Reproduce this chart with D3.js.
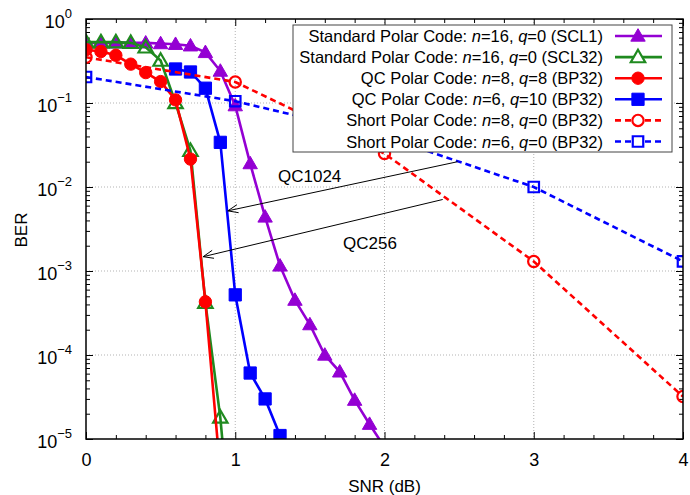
<!DOCTYPE html>
<html>
<head>
<meta charset="utf-8">
<script src="https://cdn.jsdelivr.net/npm/d3@7"></script>
<style>
  body { margin: 0; background: #fff; }
  svg { display: block; font-family: "Liberation Sans", Arial, Helvetica, sans-serif; }
</style>
</head>
<body>
<svg id="chart" width="690" height="495"></svg>
<script>
// ---- data ----
const xTicks = [0, 1, 2, 3, 4];
const xMinorTicks = [0.2, 0.4, 0.6, 0.8, 1.2, 1.4, 1.6, 1.8, 2.2, 2.4, 2.6, 2.8, 3.2, 3.4, 3.6, 3.8];
const yExponents = [0, -1, -2, -3, -4, -5];

const snrSCL1 = [0, 0.1, 0.2, 0.3, 0.4, 0.5, 0.6, 0.7, 0.8, 0.9, 1.0, 1.1, 1.2, 1.3, 1.4, 1.5, 1.6, 1.7, 1.8, 1.9, 2.0];
const berSCL1 = [0.52, 0.52, 0.52, 0.52, 0.52, 0.51, 0.50, 0.48, 0.40, 0.24, 0.093, 0.019, 0.0044, 0.00115, 0.00045, 0.00023, 0.0001, 0.000063, 0.000029, 0.000015, 0.000008];

const snrSCL32 = [0, 0.1, 0.2, 0.3, 0.4, 0.5, 0.6, 0.7, 0.8, 0.9, 1.0];
const berSCL32 = [0.53, 0.53, 0.53, 0.52, 0.46, 0.32, 0.10, 0.027, 0.00042, 0.000018, 0.0000002];

const snrQC8 = [0, 0.1, 0.2, 0.3, 0.4, 0.5, 0.6, 0.7, 0.8, 0.9];
const berQC8 = [0.43, 0.41, 0.37, 0.29, 0.23, 0.18, 0.109, 0.0215, 0.00043, 0.000004];

const snrQC6 = [0.6, 0.7, 0.8, 0.9, 1.0, 1.1, 1.2, 1.3];
const berQC6 = [0.254, 0.234, 0.15, 0.034, 0.00052, 0.000061, 0.00003, 0.000011];

const snrShort8 = [0, 1, 2, 3, 4];
const berShort8 = [0.35, 0.178, 0.025, 0.0013, 0.000032];

const snrShort6 = [0, 1, 2, 3, 4];
const berShort6 = [0.204, 0.105, 0.04, 0.01, 0.0013];

const seriesNames = [
  ["Standard Polar Code: ", "n", "=16, ", "q", "=0 (SCL1)"],
  ["Standard Polar Code: ", "n", "=16, ", "q", "=0 (SCL32)"],
  ["QC Polar Code: ", "n", "=8, ", "q", "=8 (BP32)"],
  ["QC Polar Code: ", "n", "=6, ", "q", "=10 (BP32)"],
  ["Short Polar Code: ", "n", "=8, ", "q", "=0 (BP32)"],
  ["Short Polar Code: ", "n", "=6, ", "q", "=0 (BP32)"]
];
const seriesColors = ["#9400d3", "#1f8a1f", "#ff0000", "#0000ff", "#ff0000", "#0000ff"];

// annotation arrows: [label, from snr, from ber, to snr, to ber]
const arrowNotes = [
  ["QC1024", 2.49, 0.02, 0.95, 0.0052],
  ["QC256", 2.39, 0.0071, 0.785, 0.00148]
];

// ---- layout ----
const svg = d3.select("#chart");
const L = 86, R = 683, T = 19, B = 439;
const x = d3.scaleLinear().domain([0, 4]).range([L, R]);
const y = d3.scaleLog().domain([1e-5, 1]).range([B, T]);
const fontFam = '"Liberation Sans", Arial, Helvetica, sans-serif';

const series = [
  { xs: snrSCL1, ys: berSCL1, sym: d3.symbolTriangle, size: 90, fill: true, dash: null },
  { xs: snrSCL32, ys: berSCL32, sym: d3.symbolTriangle, size: 90, fill: false, dash: null },
  { xs: snrQC8, ys: berQC8, sym: d3.symbolCircle, size: 120, fill: true, dash: null },
  { xs: snrQC6, ys: berQC6, sym: d3.symbolSquare, size: 150, fill: true, dash: null },
  { xs: snrShort8, ys: berShort8, sym: d3.symbolCircle, size: 100, fill: false, dash: "6,4" },
  { xs: snrShort6, ys: berShort6, sym: d3.symbolSquare, size: 110, fill: false, dash: "6,4" }
];

svg.append("defs").append("clipPath").attr("id", "plotclip")
  .append("rect").attr("x", L).attr("y", T).attr("width", R - L).attr("height", B - T);

// grid
const grid = svg.append("g").attr("stroke", "#aaa").attr("stroke-width", 0.9).attr("stroke-dasharray", "1,2");
xTicks.slice(1, -1).forEach(v => {
  grid.append("line").attr("x1", x(v)).attr("x2", x(v)).attr("y1", T).attr("y2", B);
});
yExponents.slice(1, -1).forEach(e => {
  grid.append("line").attr("x1", L).attr("x2", R).attr("y1", y(Math.pow(10, e))).attr("y2", y(Math.pow(10, e)));
});

// axes (ticks point inward)
const yMajor = yExponents.map(e => Math.pow(10, e));
const yMinor = [];
yExponents.slice(1).forEach(e => { for (let k = 2; k <= 9; k++) yMinor.push(k * Math.pow(10, e)); });

function styleAxis(g) {
  g.select(".domain").remove();
  g.selectAll("line").attr("stroke", "#000").attr("stroke-width", 1);
  g.selectAll("text").attr("font-family", fontFam).attr("fill", "#000");
}

svg.append("g").attr("transform", `translate(0,${B})`)
  .call(d3.axisBottom(x).tickValues(xTicks).tickSize(-7).tickSizeOuter(0).tickPadding(14).tickFormat(d3.format("d")))
  .call(styleAxis).selectAll("text").attr("font-size", 18);
svg.append("g").attr("transform", `translate(0,${B})`)
  .call(d3.axisBottom(x).tickValues(xMinorTicks).tickSize(-4).tickSizeOuter(0).tickFormat(""))
  .call(styleAxis);
svg.append("g").attr("transform", `translate(0,${T})`)
  .call(d3.axisTop(x).tickValues(xTicks).tickSize(-7).tickSizeOuter(0).tickFormat(""))
  .call(styleAxis);
svg.append("g").attr("transform", `translate(0,${T})`)
  .call(d3.axisTop(x).tickValues(xMinorTicks).tickSize(-4).tickSizeOuter(0).tickFormat(""))
  .call(styleAxis);

const yAxisG = svg.append("g").attr("transform", `translate(${L},0)`)
  .call(d3.axisLeft(y).tickValues(yMajor).tickSize(-7).tickSizeOuter(0).tickPadding(14).tickFormat(""))
  .call(styleAxis);
yAxisG.selectAll(".tick text").each(function (d) {
  const t = d3.select(this).attr("font-size", 18).attr("dy", "0.45em");
  t.append("tspan").text("10");
  const ex = Math.round(Math.log10(d));
  t.append("tspan").attr("font-size", 13).attr("dy", "-0.75em")
    .text(ex === 0 ? "0" : "\u2212" + Math.abs(ex));
});
svg.append("g").attr("transform", `translate(${L},0)`)
  .call(d3.axisLeft(y).tickValues(yMinor).tickSize(-4).tickSizeOuter(0).tickFormat(""))
  .call(styleAxis);
svg.append("g").attr("transform", `translate(${R},0)`)
  .call(d3.axisRight(y).tickValues(yMajor).tickSize(-7).tickSizeOuter(0).tickFormat(""))
  .call(styleAxis);
svg.append("g").attr("transform", `translate(${R},0)`)
  .call(d3.axisRight(y).tickValues(yMinor).tickSize(-4).tickSizeOuter(0).tickFormat(""))
  .call(styleAxis);

// series
const plot = svg.append("g").attr("clip-path", "url(#plotclip)");
const line = d3.line();
series.forEach((s, i) => {
  const col = seriesColors[i];
  const pts = s.xs.map((v, j) => [x(v), y(s.ys[j])]);
  const g = plot.append("g");
  g.append("path").attr("d", line(pts)).attr("fill", "none")
    .attr("stroke", col).attr("stroke-width", 2.6)
    .attr("stroke-dasharray", s.dash);
  g.selectAll("path.mk").data(pts).join("path").attr("class", "mk")
    .attr("transform", p => `translate(${p[0]},${p[1] + (s.sym === d3.symbolTriangle ? 1 : 0)})`)
    .attr("d", d3.symbol(s.sym, s.size)())
    .attr("fill", s.fill ? col : "none")
    .attr("stroke", col).attr("stroke-width", s.fill ? 1 : 2.2);
});

// annotations
const notes = svg.append("g");
arrowNotes.forEach(a => {
  const x1 = x(a[1]), y1 = y(a[2]), x2 = x(a[3]), y2 = y(a[4]);
  notes.append("line").attr("x1", x1).attr("y1", y1).attr("x2", x2).attr("y2", y2)
    .attr("stroke", "#000").attr("stroke-width", 1);
  const ang = Math.atan2(y1 - y2, x1 - x2);
  [0.38, -0.38].forEach(da => {
    notes.append("line").attr("x1", x2).attr("y1", y2)
      .attr("x2", x2 + 11 * Math.cos(ang + da)).attr("y2", y2 + 11 * Math.sin(ang + da))
      .attr("stroke", "#000").attr("stroke-width", 1);
  });
});
notes.append("text").attr("x", 278).attr("y", 182).attr("font-size", 17).text(arrowNotes[0][0]);
notes.append("text").attr("x", 343).attr("y", 249).attr("font-size", 17).text(arrowNotes[1][0]);

// legend
const leg = svg.append("g");
leg.append("rect").attr("x", 293).attr("y", 25).attr("width", 379).attr("height", 127)
  .attr("fill", "#fff").attr("stroke", "#444").attr("stroke-width", 1);
seriesNames.forEach((parts, i) => {
  const cy = 36 + i * 21.1;
  const t = leg.append("text").attr("x", 603).attr("y", cy + 6).attr("text-anchor", "end")
    .attr("font-size", 16.5).attr("fill", "#000");
  parts.forEach((p, k) => t.append("tspan").attr("font-style", k === 1 || k === 3 ? "italic" : "normal").text(p));
  const s = series[i], col = seriesColors[i];
  leg.append("line").attr("x1", 615).attr("x2", 662).attr("y1", cy).attr("y2", cy)
    .attr("stroke", col).attr("stroke-width", 2.6).attr("stroke-dasharray", s.dash);
  leg.append("path").attr("transform", `translate(638,${cy + (s.sym === d3.symbolTriangle ? 1 : 0)})`)
    .attr("d", d3.symbol(s.sym, s.size)())
    .attr("fill", s.fill ? col : "#fff")
    .attr("stroke", col).attr("stroke-width", s.fill ? 1 : 2.2);
});

// frame and titles
svg.append("rect").attr("x", L).attr("y", T).attr("width", R - L).attr("height", B - T)
  .attr("fill", "none").attr("stroke", "#000").attr("stroke-width", 1.5);
svg.append("text").attr("x", (L + R) / 2).attr("y", 492).attr("text-anchor", "middle")
  .attr("font-size", 17).text("SNR (dB)");
svg.append("text").attr("transform", "translate(27,230) rotate(-90)").attr("text-anchor", "middle")
  .attr("font-size", 17).text("BER");
</script>
</body>
</html>
